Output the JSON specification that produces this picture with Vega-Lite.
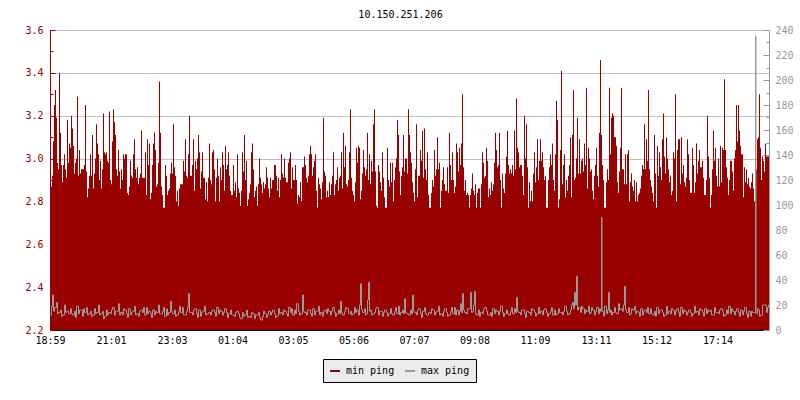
{
"$schema": "https://vega.github.io/schema/vega-lite/v6.json",
"width": 719, "height": 300,
"autosize": {"type": "none"},
"padding": {"left": 50, "top": 30, "right": 31, "bottom": 70},
"background": "white",
"title": {"text": "10.150.251.206", "font": "DejaVu Sans Mono", "fontSize": 10, "fontWeight": "normal", "color": "black", "anchor": "middle", "dx": -9, "offset": 5},
"datasets": {
"mn": [
{"t":0,"v":2.86},{"t":2,"v":2.87},{"t":4,"v":2.92},{"t":6,"v":3.08},{"t":8,"v":3.25},{"t":10,"v":3.32},{"t":12,"v":3.19},{"t":14,"v":2.98},{"t":16,"v":2.95},{"t":18,"v":3.40},{"t":20,"v":3.12},{"t":22,"v":2.97},{"t":24,"v":2.89},{"t":26,"v":2.97},{"t":28,"v":3.02},{"t":30,"v":2.95},{"t":32,"v":2.91},{"t":34,"v":3.18},{"t":36,"v":2.98},{"t":38,"v":3.07},{"t":40,"v":3.05},{"t":42,"v":3.20},{"t":44,"v":3.14},{"t":46,"v":3.06},{"t":48,"v":2.93},{"t":50,"v":2.98},{"t":52,"v":3.00},{"t":54,"v":3.29},{"t":56,"v":2.92},{"t":58,"v":3.04},{"t":60,"v":2.93},{"t":62,"v":2.95},{"t":64,"v":2.95},{"t":66,"v":2.95},{"t":68,"v":2.97},{"t":70,"v":3.25},{"t":72,"v":2.94},{"t":74,"v":2.82},{"t":76,"v":2.86},{"t":78,"v":2.92},{"t":80,"v":3.02},{"t":82,"v":2.92},{"t":84,"v":3.11},{"t":86,"v":2.86},{"t":88,"v":2.93},{"t":90,"v":3.00},{"t":92,"v":3.16},{"t":94,"v":3.07},{"t":96,"v":3.02},{"t":98,"v":2.90},{"t":100,"v":2.99},{"t":102,"v":2.86},{"t":104,"v":2.95},{"t":106,"v":3.21},{"t":108,"v":3.03},{"t":110,"v":3.02},{"t":112,"v":3.03},{"t":114,"v":2.99},{"t":116,"v":2.98},{"t":118,"v":3.22},{"t":120,"v":2.90},{"t":122,"v":2.88},{"t":124,"v":3.08},{"t":126,"v":3.23},{"t":128,"v":3.17},{"t":130,"v":3.11},{"t":132,"v":2.95},{"t":134,"v":2.92},{"t":136,"v":3.04},{"t":138,"v":2.94},{"t":140,"v":2.86},{"t":142,"v":2.95},{"t":144,"v":2.90},{"t":146,"v":3.02},{"t":148,"v":3.00},{"t":150,"v":3.02},{"t":152,"v":3.02},{"t":154,"v":2.84},{"t":156,"v":2.83},{"t":158,"v":2.87},{"t":160,"v":2.99},{"t":162,"v":2.92},{"t":164,"v":2.91},{"t":166,"v":3.02},{"t":168,"v":3.09},{"t":170,"v":2.95},{"t":172,"v":2.91},{"t":174,"v":2.96},{"t":176,"v":2.88},{"t":178,"v":2.91},{"t":180,"v":2.93},{"t":182,"v":3.13},{"t":184,"v":2.91},{"t":186,"v":2.91},{"t":188,"v":2.91},{"t":190,"v":3.03},{"t":192,"v":2.83},{"t":194,"v":3.09},{"t":196,"v":2.97},{"t":198,"v":3.07},{"t":200,"v":2.81},{"t":202,"v":2.84},{"t":204,"v":2.97},{"t":206,"v":3.07},{"t":208,"v":3.12},{"t":210,"v":3.04},{"t":212,"v":2.87},{"t":214,"v":2.88},{"t":216,"v":2.98},{"t":218,"v":3.36},{"t":220,"v":3.12},{"t":222,"v":2.87},{"t":224,"v":2.83},{"t":226,"v":2.77},{"t":228,"v":2.77},{"t":230,"v":2.97},{"t":232,"v":2.92},{"t":234,"v":2.83},{"t":236,"v":2.85},{"t":238,"v":2.86},{"t":240,"v":2.93},{"t":242,"v":2.98},
{"t":244,"v":2.93},{"t":246,"v":3.16},{"t":248,"v":2.96},{"t":250,"v":2.92},{"t":252,"v":2.80},{"t":254,"v":2.85},{"t":256,"v":2.78},{"t":258,"v":2.86},{"t":260,"v":2.88},{"t":262,"v":2.88},{"t":264,"v":2.88},{"t":266,"v":2.99},{"t":268,"v":2.94},{"t":270,"v":3.09},{"t":272,"v":2.92},{"t":274,"v":2.91},{"t":276,"v":3.02},{"t":278,"v":3.20},{"t":280,"v":2.92},{"t":282,"v":2.92},{"t":284,"v":2.97},{"t":286,"v":3.09},{"t":288,"v":2.85},{"t":290,"v":2.99},{"t":292,"v":2.95},{"t":294,"v":3.00},{"t":296,"v":3.11},{"t":298,"v":3.03},{"t":300,"v":2.86},{"t":302,"v":2.94},{"t":304,"v":3.03},{"t":306,"v":2.91},{"t":308,"v":2.91},{"t":310,"v":2.81},{"t":312,"v":2.89},{"t":314,"v":2.80},{"t":316,"v":2.91},{"t":318,"v":3.07},{"t":320,"v":2.90},{"t":322,"v":2.88},{"t":324,"v":3.03},{"t":326,"v":3.04},{"t":328,"v":2.95},{"t":330,"v":2.80},{"t":332,"v":2.91},{"t":334,"v":3.00},{"t":336,"v":2.92},{"t":338,"v":2.80},{"t":340,"v":2.96},{"t":342,"v":2.90},{"t":344,"v":3.03},{"t":346,"v":2.97},{"t":348,"v":2.85},{"t":350,"v":3.06},{"t":352,"v":2.95},{"t":354,"v":2.97},{"t":356,"v":3.03},{"t":358,"v":2.92},{"t":360,"v":2.85},{"t":362,"v":2.83},{"t":364,"v":2.83},{"t":366,"v":2.97},{"t":368,"v":2.85},{"t":370,"v":2.89},{"t":372,"v":2.82},{"t":374,"v":3.02},{"t":376,"v":2.86},{"t":378,"v":2.84},{"t":380,"v":2.78},{"t":382,"v":2.85},{"t":384,"v":3.03},{"t":386,"v":2.94},{"t":388,"v":3.11},{"t":390,"v":2.90},{"t":392,"v":2.99},{"t":394,"v":2.78},{"t":396,"v":2.81},{"t":398,"v":2.84},{"t":400,"v":2.88},{"t":402,"v":3.03},{"t":404,"v":3.07},{"t":406,"v":2.95},{"t":408,"v":2.82},{"t":410,"v":2.85},{"t":412,"v":2.87},{"t":414,"v":2.78},{"t":416,"v":2.88},{"t":418,"v":3.00},{"t":420,"v":2.91},{"t":422,"v":2.88},{"t":424,"v":2.84},{"t":426,"v":2.89},{"t":428,"v":2.86},{"t":430,"v":2.88},{"t":432,"v":2.96},{"t":434,"v":2.91},{"t":436,"v":2.86},{"t":438,"v":2.82},{"t":440,"v":2.91},{"t":442,"v":2.86},{"t":444,"v":2.90},{"t":446,"v":2.90},{"t":448,"v":2.97},{"t":450,"v":2.97},{"t":452,"v":2.92},{"t":454,"v":2.85},{"t":456,"v":2.91},{"t":458,"v":2.82},{"t":460,"v":2.90},{"t":462,"v":3.02},{"t":464,"v":2.93},{"t":466,"v":2.91},{"t":468,"v":3.00},{"t":470,"v":2.91},{"t":472,"v":2.89},{"t":474,"v":2.89},{"t":476,"v":2.98},{"t":478,"v":3.00},{"t":480,"v":3.03},{"t":482,"v":2.86},{"t":484,"v":2.96},{"t":486,"v":2.90},{"t":488,"v":2.90},
{"t":490,"v":2.97},{"t":492,"v":2.90},{"t":494,"v":2.79},{"t":496,"v":2.83},{"t":498,"v":2.82},{"t":500,"v":2.89},{"t":502,"v":2.80},{"t":504,"v":2.96},{"t":506,"v":2.96},{"t":508,"v":3.01},{"t":510,"v":2.97},{"t":512,"v":2.91},{"t":514,"v":2.89},{"t":516,"v":2.92},{"t":518,"v":3.02},{"t":520,"v":3.06},{"t":522,"v":3.02},{"t":524,"v":2.92},{"t":526,"v":2.96},{"t":528,"v":2.99},{"t":530,"v":3.02},{"t":532,"v":2.85},{"t":534,"v":2.77},{"t":536,"v":2.91},{"t":538,"v":2.88},{"t":540,"v":2.86},{"t":542,"v":2.81},{"t":544,"v":2.89},{"t":546,"v":3.19},{"t":548,"v":2.94},{"t":550,"v":2.92},{"t":552,"v":2.82},{"t":554,"v":2.85},{"t":556,"v":2.82},{"t":558,"v":2.89},{"t":560,"v":2.83},{"t":562,"v":2.88},{"t":564,"v":2.92},{"t":566,"v":3.03},{"t":568,"v":2.83},{"t":570,"v":2.88},{"t":572,"v":2.90},{"t":574,"v":2.96},{"t":576,"v":2.85},{"t":578,"v":2.91},{"t":580,"v":2.92},{"t":582,"v":3.03},{"t":584,"v":2.86},{"t":586,"v":3.12},{"t":588,"v":2.96},{"t":590,"v":3.06},{"t":592,"v":2.88},{"t":594,"v":2.87},{"t":596,"v":2.90},{"t":598,"v":3.03},{"t":600,"v":3.23},{"t":602,"v":2.91},{"t":604,"v":2.85},{"t":606,"v":2.83},{"t":608,"v":2.80},{"t":610,"v":2.89},{"t":612,"v":3.05},{"t":614,"v":2.98},{"t":616,"v":3.06},{"t":618,"v":3.05},{"t":620,"v":2.81},{"t":622,"v":2.85},{"t":624,"v":2.93},{"t":626,"v":3.04},{"t":628,"v":2.96},{"t":630,"v":2.92},{"t":632,"v":2.95},{"t":634,"v":3.12},{"t":636,"v":2.90},{"t":638,"v":3.02},{"t":640,"v":2.88},{"t":642,"v":2.99},{"t":644,"v":2.94},{"t":646,"v":3.16},{"t":648,"v":3.23},{"t":650,"v":2.94},{"t":652,"v":2.78},{"t":654,"v":2.77},{"t":656,"v":2.97},{"t":658,"v":2.94},{"t":660,"v":2.89},{"t":662,"v":2.85},{"t":664,"v":3.03},{"t":666,"v":2.91},{"t":668,"v":2.82},{"t":670,"v":2.77},{"t":672,"v":2.77},{"t":674,"v":3.05},{"t":676,"v":2.90},{"t":678,"v":2.87},{"t":680,"v":2.98},{"t":682,"v":2.89},{"t":684,"v":2.98},{"t":686,"v":2.80},{"t":688,"v":2.90},{"t":690,"v":2.96},{"t":692,"v":3.00},{"t":694,"v":3.18},{"t":696,"v":3.11},{"t":698,"v":2.94},{"t":700,"v":2.83},{"t":702,"v":2.92},{"t":704,"v":2.96},{"t":706,"v":3.11},{"t":708,"v":2.94},{"t":710,"v":3.00},{"t":712,"v":3.00},{"t":714,"v":2.93},{"t":716,"v":3.23},{"t":718,"v":3.11},{"t":720,"v":3.03},{"t":722,"v":2.98},{"t":724,"v":2.89},{"t":726,"v":2.84},{"t":728,"v":2.80},
{"t":730,"v":2.95},{"t":732,"v":3.16},{"t":734,"v":2.82},{"t":736,"v":2.92},{"t":738,"v":2.92},{"t":740,"v":3.04},{"t":742,"v":2.99},{"t":744,"v":3.13},{"t":746,"v":2.91},{"t":748,"v":3.14},{"t":750,"v":2.95},{"t":752,"v":2.90},{"t":754,"v":3.03},{"t":756,"v":2.83},{"t":758,"v":2.77},{"t":760,"v":2.77},{"t":762,"v":2.84},{"t":764,"v":2.90},{"t":766,"v":2.87},{"t":768,"v":3.04},{"t":770,"v":2.92},{"t":772,"v":2.95},{"t":774,"v":3.10},{"t":776,"v":2.95},{"t":778,"v":2.98},{"t":780,"v":2.77},{"t":782,"v":2.85},{"t":784,"v":2.90},{"t":786,"v":2.96},{"t":788,"v":2.88},{"t":790,"v":2.85},{"t":792,"v":2.85},{"t":794,"v":2.96},{"t":796,"v":2.84},{"t":798,"v":3.12},{"t":800,"v":2.97},{"t":802,"v":2.90},{"t":804,"v":3.03},{"t":806,"v":2.90},{"t":808,"v":2.84},{"t":810,"v":2.87},{"t":812,"v":3.07},{"t":814,"v":3.03},{"t":816,"v":2.94},{"t":818,"v":3.05},{"t":820,"v":2.97},{"t":822,"v":3.07},{"t":824,"v":3.30},{"t":826,"v":2.96},{"t":828,"v":2.85},{"t":830,"v":2.90},{"t":832,"v":2.83},{"t":834,"v":2.84},{"t":836,"v":2.83},{"t":838,"v":2.77},{"t":840,"v":2.83},{"t":842,"v":2.86},{"t":844,"v":2.93},{"t":846,"v":2.85},{"t":848,"v":2.83},{"t":850,"v":2.88},{"t":852,"v":2.77},{"t":854,"v":2.84},{"t":856,"v":2.86},{"t":858,"v":2.86},{"t":860,"v":2.77},{"t":862,"v":2.88},{"t":864,"v":3.03},{"t":866,"v":2.98},{"t":868,"v":2.91},{"t":870,"v":2.92},{"t":872,"v":3.05},{"t":874,"v":2.99},{"t":876,"v":2.82},{"t":878,"v":2.86},{"t":880,"v":2.83},{"t":882,"v":2.89},{"t":884,"v":2.85},{"t":886,"v":2.88},{"t":888,"v":2.98},{"t":890,"v":3.12},{"t":892,"v":3.04},{"t":894,"v":2.96},{"t":896,"v":2.97},{"t":898,"v":3.12},{"t":900,"v":2.90},{"t":902,"v":2.77},{"t":904,"v":2.93},{"t":906,"v":2.86},{"t":908,"v":2.84},{"t":910,"v":2.93},{"t":912,"v":3.01},{"t":914,"v":3.13},{"t":916,"v":2.97},{"t":918,"v":2.93},{"t":920,"v":2.95},{"t":922,"v":2.93},{"t":924,"v":2.97},{"t":926,"v":2.92},{"t":928,"v":3.13},{"t":930,"v":2.95},{"t":932,"v":3.28},{"t":934,"v":3.05},{"t":936,"v":3.03},{"t":938,"v":2.96},{"t":940,"v":2.97},{"t":942,"v":2.97},{"t":944,"v":2.92},{"t":946,"v":2.83},{"t":948,"v":3.20},{"t":950,"v":3.00},{"t":952,"v":3.16},{"t":954,"v":2.96},{"t":956,"v":2.77},{"t":958,"v":2.89},{"t":960,"v":2.80},{"t":962,"v":2.85},{"t":964,"v":2.80},{"t":966,"v":2.93},{"t":968,"v":3.03},
{"t":970,"v":2.89},{"t":972,"v":2.96},{"t":974,"v":3.09},{"t":976,"v":2.90},{"t":978,"v":2.99},{"t":980,"v":3.09},{"t":982,"v":2.99},{"t":984,"v":3.03},{"t":986,"v":2.96},{"t":988,"v":2.90},{"t":990,"v":2.92},{"t":992,"v":2.77},{"t":994,"v":2.77},{"t":996,"v":2.90},{"t":998,"v":2.96},{"t":1000,"v":3.02},{"t":1002,"v":2.97},{"t":1004,"v":3.07},{"t":1006,"v":2.90},{"t":1008,"v":2.85},{"t":1010,"v":3.02},{"t":1012,"v":3.27},{"t":1014,"v":3.18},{"t":1016,"v":2.77},{"t":1018,"v":2.81},{"t":1020,"v":3.04},{"t":1022,"v":3.41},{"t":1024,"v":2.88},{"t":1026,"v":2.97},{"t":1028,"v":3.02},{"t":1030,"v":2.82},{"t":1032,"v":2.90},{"t":1034,"v":2.85},{"t":1036,"v":2.92},{"t":1038,"v":2.97},{"t":1040,"v":3.10},{"t":1042,"v":2.82},{"t":1044,"v":3.11},{"t":1046,"v":3.32},{"t":1048,"v":2.90},{"t":1050,"v":2.91},{"t":1052,"v":3.00},{"t":1054,"v":3.19},{"t":1056,"v":2.93},{"t":1058,"v":3.09},{"t":1060,"v":2.93},{"t":1062,"v":2.99},{"t":1064,"v":3.00},{"t":1066,"v":2.94},{"t":1068,"v":3.07},{"t":1070,"v":2.97},{"t":1072,"v":3.33},{"t":1074,"v":2.86},{"t":1076,"v":3.05},{"t":1078,"v":3.00},{"t":1080,"v":2.94},{"t":1082,"v":2.95},{"t":1084,"v":2.85},{"t":1086,"v":2.81},{"t":1088,"v":2.92},{"t":1090,"v":2.97},{"t":1092,"v":3.05},{"t":1094,"v":2.92},{"t":1096,"v":2.87},{"t":1098,"v":3.12},{"t":1100,"v":3.46},{"t":1102,"v":3.11},{"t":1104,"v":2.97},{"t":1106,"v":2.90},{"t":1108,"v":2.77},{"t":1110,"v":2.77},{"t":1112,"v":2.89},{"t":1114,"v":2.95},{"t":1116,"v":2.90},{"t":1118,"v":3.33},{"t":1120,"v":3.02},{"t":1122,"v":3.19},{"t":1124,"v":3.21},{"t":1126,"v":3.20},{"t":1128,"v":3.10},{"t":1130,"v":3.10},{"t":1132,"v":3.06},{"t":1134,"v":2.89},{"t":1136,"v":2.84},{"t":1138,"v":2.94},{"t":1140,"v":3.05},{"t":1142,"v":3.33},{"t":1144,"v":2.95},{"t":1146,"v":2.95},{"t":1148,"v":2.88},{"t":1150,"v":3.02},{"t":1152,"v":2.88},{"t":1154,"v":3.02},{"t":1156,"v":3.04},{"t":1158,"v":2.80},{"t":1160,"v":2.89},{"t":1162,"v":2.93},{"t":1164,"v":2.87},{"t":1166,"v":2.85},{"t":1168,"v":2.90},{"t":1170,"v":2.80},{"t":1172,"v":2.89},{"t":1174,"v":2.80},{"t":1176,"v":2.83},{"t":1178,"v":2.84},{"t":1180,"v":2.86},{"t":1182,"v":2.92},{"t":1184,"v":2.97},{"t":1186,"v":2.95},{"t":1188,"v":3.16},{"t":1190,"v":2.95},{"t":1192,"v":3.09},{"t":1194,"v":2.99},{"t":1196,"v":3.32},{"t":1198,"v":2.95},{"t":1200,"v":2.90},{"t":1202,"v":2.87},{"t":1204,"v":2.84},{"t":1206,"v":2.80},{"t":1208,"v":3.11},
{"t":1210,"v":2.93},{"t":1212,"v":2.77},{"t":1214,"v":3.06},{"t":1216,"v":2.92},{"t":1218,"v":3.03},{"t":1220,"v":2.96},{"t":1222,"v":2.90},{"t":1224,"v":3.09},{"t":1226,"v":3.21},{"t":1228,"v":3.01},{"t":1230,"v":2.93},{"t":1232,"v":3.10},{"t":1234,"v":3.00},{"t":1236,"v":2.95},{"t":1238,"v":2.89},{"t":1240,"v":2.92},{"t":1242,"v":2.83},{"t":1244,"v":2.85},{"t":1246,"v":3.03},{"t":1248,"v":3.00},{"t":1250,"v":3.30},{"t":1252,"v":2.80},{"t":1254,"v":3.04},{"t":1256,"v":3.09},{"t":1258,"v":3.09},{"t":1260,"v":2.88},{"t":1262,"v":3.10},{"t":1264,"v":2.93},{"t":1266,"v":2.97},{"t":1268,"v":2.89},{"t":1270,"v":2.87},{"t":1272,"v":2.91},{"t":1274,"v":3.09},{"t":1276,"v":3.02},{"t":1278,"v":2.90},{"t":1280,"v":2.84},{"t":1282,"v":2.84},{"t":1284,"v":3.05},{"t":1286,"v":2.97},{"t":1288,"v":2.84},{"t":1290,"v":2.89},{"t":1292,"v":3.07},{"t":1294,"v":2.93},{"t":1296,"v":2.99},{"t":1298,"v":3.04},{"t":1300,"v":2.96},{"t":1302,"v":2.96},{"t":1304,"v":2.99},{"t":1306,"v":2.91},{"t":1308,"v":2.83},{"t":1310,"v":2.83},{"t":1312,"v":2.90},{"t":1314,"v":3.20},{"t":1316,"v":3.01},{"t":1318,"v":2.91},{"t":1320,"v":2.77},{"t":1322,"v":2.83},{"t":1324,"v":2.95},{"t":1326,"v":3.13},{"t":1328,"v":2.99},{"t":1330,"v":3.05},{"t":1332,"v":2.92},{"t":1334,"v":2.87},{"t":1336,"v":3.00},{"t":1338,"v":2.87},{"t":1340,"v":3.06},{"t":1342,"v":2.89},{"t":1344,"v":3.05},{"t":1346,"v":3.04},{"t":1348,"v":3.37},{"t":1350,"v":3.04},{"t":1352,"v":2.96},{"t":1354,"v":2.91},{"t":1356,"v":2.83},{"t":1358,"v":2.90},{"t":1360,"v":2.99},{"t":1362,"v":2.99},{"t":1364,"v":2.94},{"t":1366,"v":2.85},{"t":1368,"v":3.00},{"t":1370,"v":3.04},{"t":1372,"v":3.25},{"t":1374,"v":3.08},{"t":1376,"v":3.25},{"t":1378,"v":3.13},{"t":1380,"v":3.06},{"t":1382,"v":3.02},{"t":1384,"v":3.02},{"t":1386,"v":2.82},{"t":1388,"v":2.96},{"t":1390,"v":2.89},{"t":1392,"v":2.95},{"t":1394,"v":2.88},{"t":1396,"v":2.91},{"t":1398,"v":2.87},{"t":1400,"v":2.86},{"t":1402,"v":2.89},{"t":1404,"v":2.93},{"t":1406,"v":2.86},{"t":1408,"v":2.80},{"t":1410,"v":2.80},{"t":1412,"v":2.95},{"t":1414,"v":3.09},{"t":1416,"v":3.10},{"t":1418,"v":3.30},{"t":1420,"v":3.05},{"t":1422,"v":2.90},{"t":1424,"v":3.01},{"t":1426,"v":2.99},{"t":1428,"v":2.94},{"t":1430,"v":3.07},{"t":1432,"v":3.01},{"t":1434,"v":3.01},{"t":1436,"v":3.01},{"t":1438,"v":3.01}
],
"mx": [
{"t":0,"v":12},{"t":2,"v":19},{"t":4,"v":28},{"t":6,"v":15},{"t":8,"v":18},{"t":12,"v":22},{"t":14,"v":13},{"t":16,"v":14},{"t":20,"v":16},{"t":22,"v":11},{"t":24,"v":12},{"t":28,"v":20},{"t":30,"v":14},{"t":32,"v":15},{"t":36,"v":13},
{"t":40,"v":17},{"t":42,"v":13},{"t":44,"v":12},{"t":48,"v":15},{"t":50,"v":10},{"t":52,"v":19},{"t":56,"v":13},{"t":58,"v":16},{"t":60,"v":16},{"t":64,"v":11},{"t":66,"v":17},{"t":68,"v":14},{"t":72,"v":18},{"t":74,"v":12},{"t":76,"v":13},
{"t":80,"v":15},{"t":82,"v":11},{"t":84,"v":12},{"t":88,"v":17},{"t":90,"v":13},{"t":92,"v":14},{"t":96,"v":20},{"t":98,"v":12},{"t":100,"v":13},{"t":104,"v":15},{"t":106,"v":9},{"t":108,"v":11},{"t":112,"v":16},{"t":114,"v":12},{"t":116,"v":14},
{"t":120,"v":13},{"t":122,"v":16},{"t":124,"v":18},{"t":128,"v":12},{"t":130,"v":15},{"t":132,"v":15},{"t":136,"v":21},{"t":138,"v":12},{"t":140,"v":14},{"t":144,"v":12},{"t":146,"v":17},{"t":148,"v":16},{"t":152,"v":13},{"t":154,"v":10},{"t":156,"v":17},
{"t":160,"v":12},{"t":162,"v":14},{"t":164,"v":15},{"t":168,"v":19},{"t":170,"v":12},{"t":172,"v":13},{"t":176,"v":11},{"t":178,"v":15},{"t":180,"v":16},{"t":184,"v":14},{"t":186,"v":18},{"t":188,"v":12},{"t":192,"v":18},{"t":194,"v":13},{"t":196,"v":15},
{"t":200,"v":13},{"t":202,"v":10},{"t":204,"v":16},{"t":208,"v":12},{"t":210,"v":15},{"t":212,"v":14},{"t":216,"v":20},{"t":218,"v":13},{"t":220,"v":13},{"t":224,"v":15},{"t":226,"v":18},{"t":228,"v":11},{"t":232,"v":17},{"t":234,"v":12},{"t":236,"v":14},
{"t":240,"v":23},{"t":242,"v":15},{"t":244,"v":13},{"t":248,"v":16},{"t":250,"v":11},{"t":252,"v":12},{"t":256,"v":15},{"t":258,"v":19},{"t":260,"v":14},{"t":264,"v":18},{"t":266,"v":12},{"t":268,"v":12},{"t":272,"v":15},{"t":274,"v":18},{"t":276,"v":29},{"t":278,"v":14},
{"t":280,"v":14},{"t":284,"v":12},{"t":286,"v":16},{"t":288,"v":17},{"t":292,"v":13},{"t":294,"v":10},{"t":296,"v":16},{"t":300,"v":11},{"t":302,"v":14},{"t":304,"v":15},{"t":308,"v":19},{"t":310,"v":12},{"t":312,"v":13},{"t":316,"v":14},
{"t":320,"v":12},{"t":322,"v":15},{"t":324,"v":16},{"t":328,"v":14},{"t":330,"v":11},{"t":332,"v":18},{"t":336,"v":13},{"t":338,"v":16},{"t":340,"v":15},{"t":344,"v":12},{"t":346,"v":14},{"t":348,"v":17},{"t":352,"v":14},{"t":354,"v":10},{"t":356,"v":13},
{"t":360,"v":16},{"t":362,"v":12},{"t":364,"v":12},{"t":368,"v":11},{"t":370,"v":14},{"t":372,"v":15},{"t":376,"v":13},{"t":378,"v":10},{"t":380,"v":9},{"t":384,"v":14},{"t":386,"v":11},{"t":388,"v":12},{"t":392,"v":16},{"t":394,"v":10},{"t":396,"v":11},
{"t":400,"v":10},{"t":402,"v":14},{"t":404,"v":13},{"t":408,"v":9},{"t":410,"v":12},{"t":412,"v":12},{"t":416,"v":14},{"t":418,"v":10},{"t":420,"v":8},{"t":424,"v":11},{"t":426,"v":15},{"t":428,"v":13},{"t":432,"v":10},{"t":434,"v":12},{"t":436,"v":15},
{"t":440,"v":12},{"t":442,"v":14},{"t":444,"v":16},{"t":448,"v":13},{"t":450,"v":10},{"t":452,"v":11},{"t":456,"v":17},{"t":458,"v":13},{"t":460,"v":14},{"t":464,"v":12},{"t":466,"v":16},{"t":468,"v":15},{"t":472,"v":13},{"t":474,"v":11},{"t":476,"v":18},
{"t":480,"v":14},{"t":482,"v":17},{"t":484,"v":12},{"t":488,"v":16},{"t":490,"v":13},{"t":492,"v":21},{"t":496,"v":15},{"t":498,"v":12},{"t":500,"v":13},{"t":504,"v":28},{"t":506,"v":15},{"t":508,"v":14},{"t":512,"v":12},{"t":514,"v":16},{"t":516,"v":16},
{"t":520,"v":13},{"t":522,"v":11},{"t":524,"v":17},{"t":528,"v":12},{"t":530,"v":15},{"t":532,"v":15},{"t":536,"v":19},{"t":538,"v":12},{"t":540,"v":14},{"t":544,"v":11},{"t":546,"v":15},{"t":548,"v":16},{"t":552,"v":13},{"t":554,"v":17},{"t":556,"v":15},
{"t":560,"v":12},{"t":562,"v":15},{"t":564,"v":18},{"t":568,"v":14},{"t":570,"v":11},{"t":572,"v":13},{"t":576,"v":16},{"t":578,"v":13},{"t":580,"v":23},{"t":582,"v":14},{"t":584,"v":12},{"t":588,"v":15},{"t":590,"v":18},{"t":592,"v":17},{"t":596,"v":13},
{"t":600,"v":15},{"t":602,"v":12},{"t":604,"v":13},{"t":608,"v":18},{"t":610,"v":14},{"t":612,"v":16},{"t":616,"v":12},{"t":618,"v":20},{"t":620,"v":37},{"t":622,"v":16},{"t":624,"v":14},{"t":628,"v":17},{"t":630,"v":12},{"t":632,"v":13},{"t":634,"v":24},{"t":636,"v":38},{"t":638,"v":15},
{"t":640,"v":16},{"t":642,"v":12},{"t":644,"v":13},{"t":648,"v":14},{"t":650,"v":17},{"t":652,"v":18},{"t":656,"v":12},{"t":658,"v":15},{"t":660,"v":15},{"t":664,"v":11},{"t":666,"v":14},{"t":668,"v":16},{"t":672,"v":14},{"t":674,"v":11},{"t":676,"v":13},
{"t":680,"v":17},{"t":682,"v":13},{"t":684,"v":12},{"t":688,"v":15},{"t":690,"v":18},{"t":692,"v":13},{"t":696,"v":19},{"t":698,"v":12},{"t":700,"v":14},{"t":704,"v":16},{"t":706,"v":13},{"t":708,"v":25},{"t":710,"v":14},{"t":712,"v":13},{"t":716,"v":12},
{"t":720,"v":16},{"t":722,"v":13},{"t":724,"v":28},{"t":726,"v":15},{"t":728,"v":14},{"t":732,"v":12},{"t":734,"v":16},{"t":736,"v":17},{"t":740,"v":13},{"t":742,"v":10},{"t":744,"v":15},{"t":748,"v":18},{"t":750,"v":13},{"t":752,"v":12},{"t":756,"v":14},
{"t":760,"v":13},{"t":762,"v":17},{"t":764,"v":16},{"t":768,"v":12},{"t":770,"v":14},{"t":772,"v":15},{"t":776,"v":19},{"t":778,"v":12},{"t":780,"v":13},{"t":784,"v":11},{"t":786,"v":15},{"t":788,"v":17},{"t":792,"v":14},{"t":794,"v":11},{"t":796,"v":12},
{"t":800,"v":15},{"t":802,"v":18},{"t":804,"v":13},{"t":808,"v":18},{"t":810,"v":12},{"t":812,"v":16},{"t":816,"v":12},{"t":818,"v":15},{"t":820,"v":21},{"t":822,"v":14},{"t":824,"v":29},{"t":826,"v":16},{"t":828,"v":14},{"t":832,"v":13},{"t":834,"v":17},{"t":836,"v":17},
{"t":840,"v":30},{"t":842,"v":14},{"t":844,"v":15},{"t":846,"v":20},{"t":848,"v":31},{"t":850,"v":13},{"t":852,"v":12},{"t":856,"v":16},{"t":858,"v":11},{"t":860,"v":14},{"t":864,"v":13},{"t":866,"v":17},{"t":868,"v":18},{"t":872,"v":15},{"t":874,"v":12},{"t":876,"v":12},
{"t":880,"v":14},{"t":882,"v":11},{"t":884,"v":17},{"t":888,"v":13},{"t":890,"v":16},{"t":892,"v":15},{"t":896,"v":12},{"t":898,"v":15},{"t":900,"v":19},{"t":904,"v":14},{"t":906,"v":11},{"t":908,"v":13},{"t":912,"v":16},{"t":914,"v":13},{"t":916,"v":12},
{"t":920,"v":15},{"t":922,"v":18},{"t":924,"v":13},{"t":928,"v":17},{"t":930,"v":14},{"t":932,"v":26},{"t":934,"v":15},{"t":936,"v":14},{"t":940,"v":12},{"t":942,"v":16},{"t":944,"v":16},{"t":948,"v":13},{"t":950,"v":10},{"t":952,"v":15},{"t":956,"v":14},
{"t":960,"v":12},{"t":962,"v":17},{"t":964,"v":16},{"t":968,"v":14},{"t":970,"v":11},{"t":972,"v":13},{"t":976,"v":18},{"t":978,"v":13},{"t":980,"v":15},{"t":984,"v":12},{"t":986,"v":16},{"t":988,"v":17},{"t":992,"v":14},{"t":994,"v":11},{"t":996,"v":13},
{"t":1000,"v":15},{"t":1002,"v":18},{"t":1004,"v":12},{"t":1008,"v":16},{"t":1010,"v":12},{"t":1012,"v":13},{"t":1016,"v":17},{"t":1018,"v":14},{"t":1020,"v":14},{"t":1024,"v":12},{"t":1026,"v":15},{"t":1028,"v":19},{"t":1032,"v":15},{"t":1034,"v":12},{"t":1036,"v":13},
{"t":1040,"v":16},{"t":1042,"v":20},{"t":1044,"v":22},{"t":1046,"v":17},{"t":1048,"v":30},{"t":1050,"v":20},{"t":1052,"v":43},{"t":1054,"v":16},{"t":1056,"v":18},{"t":1060,"v":14},{"t":1062,"v":19},{"t":1064,"v":17},{"t":1068,"v":13},{"t":1070,"v":16},{"t":1072,"v":15},{"t":1076,"v":19},{"t":1078,"v":13},
{"t":1080,"v":14},{"t":1082,"v":18},{"t":1084,"v":16},{"t":1088,"v":12},{"t":1090,"v":15},{"t":1092,"v":18},{"t":1096,"v":13},{"t":1098,"v":17},{"t":1100,"v":15},{"t":1102,"v":90},{"t":1103,"v":15},{"t":1104,"v":15},{"t":1106,"v":11},{"t":1108,"v":19},{"t":1112,"v":13},{"t":1114,"v":16},{"t":1116,"v":30},{"t":1118,"v":14},
{"t":1120,"v":16},{"t":1122,"v":12},{"t":1124,"v":14},{"t":1128,"v":18},{"t":1130,"v":14},{"t":1132,"v":13},{"t":1136,"v":21},{"t":1138,"v":16},{"t":1140,"v":17},{"t":1144,"v":15},{"t":1146,"v":20},{"t":1148,"v":35},{"t":1150,"v":16},{"t":1152,"v":14},{"t":1156,"v":18},{"t":1158,"v":12},
{"t":1160,"v":13},{"t":1162,"v":17},{"t":1164,"v":16},{"t":1168,"v":19},{"t":1170,"v":13},{"t":1172,"v":15},{"t":1176,"v":14},{"t":1178,"v":11},{"t":1180,"v":17},{"t":1184,"v":12},{"t":1186,"v":15},{"t":1188,"v":16},{"t":1192,"v":14},{"t":1194,"v":18},{"t":1196,"v":13},
{"t":1200,"v":17},{"t":1202,"v":13},{"t":1204,"v":12},{"t":1208,"v":15},{"t":1210,"v":11},{"t":1212,"v":18},{"t":1216,"v":13},{"t":1218,"v":16},{"t":1220,"v":16},{"t":1224,"v":14},{"t":1226,"v":11},{"t":1228,"v":12},{"t":1232,"v":19},{"t":1234,"v":13},{"t":1236,"v":15},
{"t":1240,"v":13},{"t":1242,"v":17},{"t":1244,"v":16},{"t":1248,"v":12},{"t":1250,"v":15},{"t":1252,"v":17},{"t":1256,"v":14},{"t":1258,"v":11},{"t":1260,"v":18},{"t":1264,"v":13},{"t":1266,"v":16},{"t":1268,"v":15},{"t":1272,"v":12},{"t":1274,"v":14},{"t":1276,"v":16},
{"t":1280,"v":14},{"t":1282,"v":11},{"t":1284,"v":13},{"t":1288,"v":19},{"t":1290,"v":14},{"t":1292,"v":15},{"t":1296,"v":12},{"t":1298,"v":17},{"t":1300,"v":16},{"t":1304,"v":14},{"t":1306,"v":11},{"t":1308,"v":17},{"t":1312,"v":13},{"t":1314,"v":16},{"t":1316,"v":15},
{"t":1320,"v":16},{"t":1322,"v":12},{"t":1324,"v":12},{"t":1328,"v":18},{"t":1330,"v":14},{"t":1332,"v":14},{"t":1336,"v":13},{"t":1338,"v":16},{"t":1340,"v":17},{"t":1344,"v":15},{"t":1346,"v":11},{"t":1348,"v":12},{"t":1352,"v":16},{"t":1354,"v":13},{"t":1356,"v":19},
{"t":1360,"v":13},{"t":1362,"v":17},{"t":1364,"v":15},{"t":1368,"v":12},{"t":1370,"v":15},{"t":1372,"v":17},{"t":1376,"v":14},{"t":1378,"v":11},{"t":1380,"v":16},{"t":1384,"v":12},{"t":1386,"v":15},{"t":1388,"v":18},{"t":1392,"v":13},{"t":1394,"v":10},{"t":1396,"v":15},
{"t":1400,"v":11},{"t":1402,"v":15},{"t":1404,"v":14},{"t":1408,"v":14},{"t":1410,"v":235},{"t":1411,"v":13},{"t":1412,"v":13},{"t":1414,"v":17},{"t":1416,"v":16},{"t":1418,"v":11},{"t":1420,"v":12},{"t":1424,"v":20},{"t":1428,"v":20},{"t":1432,"v":14},{"t":1434,"v":18},{"t":1436,"v":20},{"t":1438,"v":20}
]
},
"config": {
  "font": "DejaVu Sans Mono",
  "view": {"stroke": null},
  "axis": {"labelFont": "DejaVu Sans Mono", "labelFontSize": 10, "title": null, "domainWidth": 1, "tickWidth": 1},
  "legend": {"orient": "none", "legendX": 273, "legendY": 329, "direction": "horizontal", "fillColor": "#ebebeb", "strokeColor": "black", "padding": 6, "symbolType": "stroke", "symbolSize": 100, "symbolStrokeWidth": 2, "labelFont": "DejaVu Sans Mono", "labelFontSize": 10, "labelColor": "black", "columnPadding": 6, "labelOffset": 5}
},
"layer": [
  {
    "data": {"name": "mn"},
    "mark": {"type": "area", "interpolate": "step-after", "clip": true},
    "encoding": {
      "x": {"field": "t", "type": "quantitative",
        "scale": {"domain": [0, 1438], "nice": false, "zero": false},
        "axis": {"values": [0, 122, 244, 365, 486, 607, 728, 849, 970, 1092, 1213, 1335],
          "labelExpr": "(floor(((1139+datum.value)%1440)/60)<10?'0':'') + floor(((1139+datum.value)%1440)/60) + ':' + (((1139+datum.value)%60)<10?'0':'') + ((1139+datum.value)%60)",
          "grid": false, "domainColor": "black", "tickColor": "black", "tickSize": -5, "labelColor": "black", "labelPadding": 10, "labelFlush": false}},
      "y": {"field": "v", "type": "quantitative",
        "scale": {"domain": [2.2, 3.6], "nice": false, "zero": false},
        "axis": {"orient": "left", "values": [2.2, 2.3, 2.4, 2.5, 2.6, 2.7, 2.8, 2.9, 3.0, 3.1, 3.2, 3.3, 3.4, 3.5, 3.6],
          "labelExpr": "round(datum.value*10)%2==0 ? format(datum.value,'.1f') : ''",
          "grid": true, "gridColor": "#c0c0c0",
          "gridOpacity": {"condition": {"test": "round(datum.value*10)%2==0", "value": 1}, "value": 0},
          "tickSize": {"condition": {"test": "round(datum.value*10)%2==0", "value": -5}, "value": -3},
          "domainColor": "#990000", "tickColor": "#990000", "labelColor": "#990000", "labelPadding": 12}},
      "color": {"datum": "min ping", "type": "nominal",
        "scale": {"domain": ["min ping", "max ping"], "range": ["#990000", "#999999"]},
        "legend": {"title": null, "encode": {"symbols": {"update": {"stroke": {"scale": "color", "field": "value"}, "strokeWidth": {"value": 2}}}}}}
    }
  },
  {
    "data": {"name": "mx"},
    "mark": {"type": "line", "interpolate": "step-after", "strokeWidth": 1, "clip": true, "xOffset": 0.5},
    "encoding": {
      "x": {"field": "t", "type": "quantitative"},
      "y": {"field": "v", "type": "quantitative",
        "scale": {"domain": [0, 240], "nice": false},
        "axis": {"orient": "right", "values": [0, 10, 20, 30, 40, 50, 60, 70, 80, 90, 100, 110, 120, 130, 140, 150, 160, 170, 180, 190, 200, 210, 220, 230, 240],
          "labelExpr": "datum.value%20==0 ? datum.label : ''",
          "grid": false,
          "tickSize": {"condition": {"test": "datum.value%20==0", "value": -6}, "value": -3},
          "domainColor": "#999999", "tickColor": "#999999", "labelColor": "#999999", "labelPadding": 12}},
      "color": {"datum": "max ping", "type": "nominal"}
    }
  }
],
"resolve": {"scale": {"y": "independent"}}
}
